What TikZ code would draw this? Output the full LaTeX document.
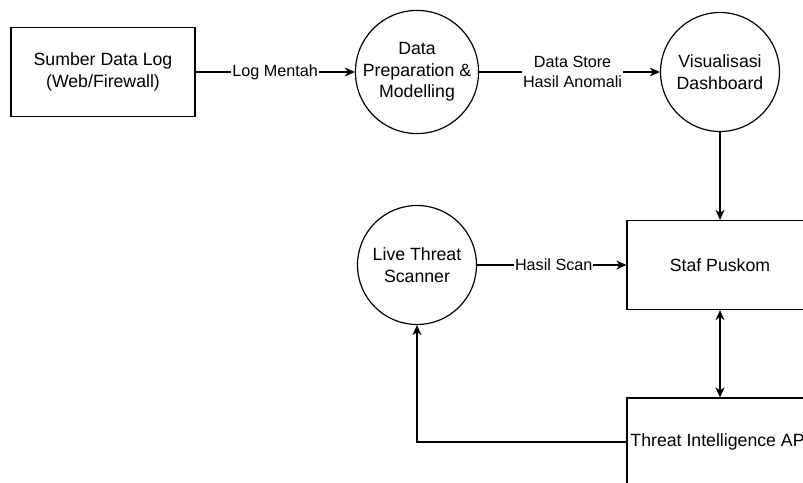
\documentclass[tikz,border=0pt]{standalone}
\usepackage{fontspec}
\setmainfont{Liberation Sans}
\usepackage{tikz}
\usetikzlibrary{arrows.meta}

\begin{document}
\begin{tikzpicture}[x=1pt, y=-1pt, line width=1.2pt,
    >={Stealth[length=10pt, width=9pt, inset=3pt]},
    entity/.style={draw, rectangle, minimum width=184pt, minimum height=89pt,
        align=center, inner sep=2pt, font=\fontsize{17.7}{21.5}\selectfont},
    proses/.style={draw, circle, minimum size=119pt, inner sep=0pt,
        align=center, font=\fontsize{17.7}{21.5}\selectfont},
    aliran/.style={fill=white, inner sep=1pt, align=center,
        font=\fontsize{16.2}{19.5}\selectfont}]
    \useasboundingbox (0,0) rectangle (803,482);
    \clip (0,0) rectangle (803,482);

    % Entitas luar
    \node[entity] (sumber) at (103, 72) {Sumber Data Log\\(Web/Firewall)};
    \node[entity, minimum width=186pt] (staf) at (720, 265) {Staf Puskom};
    \node[entity, minimum width=186pt, minimum height=88pt] (api) at (720, 442) {Threat Intelligence API};

    % Proses
    \node[proses] (prep) at (417, 72) {Data\\Preparation \&\\Modelling};
    \node[proses] (visual) at (720, 72) {Visualisasi\\Dashboard};
    \node[proses] (scanner) at (417, 265) {Live Threat\\Scanner};

    % Aliran data
    \draw[->] (sumber) -- node[aliran] (lblLog) {Log Mentah} (prep);
    \draw[->] (prep) -- node[aliran, xshift=3pt] (lblStore) {Data Store\\Hasil Anomali} (visual);
    \draw[->] (visual) -- (staf);
    \draw[->] (scanner) -- node[aliran, xshift=2pt] (lblScan) {Hasil Scan} (staf);
    \draw[<->] (staf) -- (api);
    \draw[->] (api.west) -| (scanner.south);
\end{tikzpicture}
\end{document}
